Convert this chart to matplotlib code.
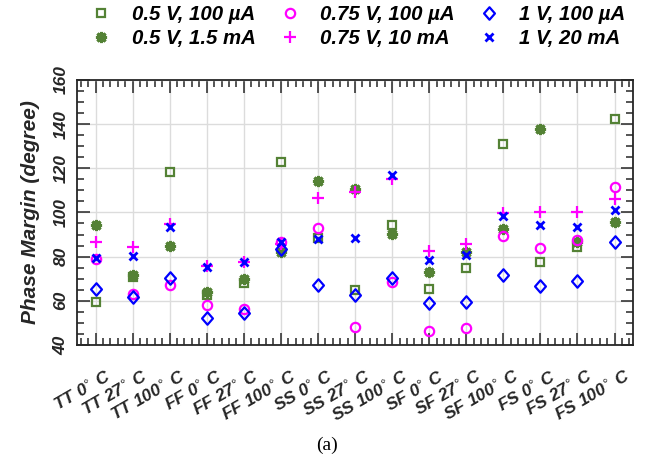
import numpy as np
import matplotlib
matplotlib.use("Agg")
import matplotlib.pyplot as plt
import matplotlib.transforms as mtransforms
from matplotlib.path import Path
from matplotlib.ticker import MultipleLocator, FixedLocator
from matplotlib.font_manager import FontProperties

# ---------------- data ----------------
corners = ["TT 0", "TT 27", "TT 100", "FF 0", "FF 27", "FF 100",
           "SS 0", "SS 27", "SS 100", "SF 0", "SF 27", "SF 100",
           "FS 0", "FS 27", "FS 100"]
tick_labels = [c + r"$^{\circ}$ C" for c in corners]

v05_100u = [59.5, 70.9, 118.5, 62.6, 68.2, 122.9, 88.4, 64.9, 94.1, 65.2, 75.0, 130.8, 77.7, 84.3, 142.1]
v05_15m = [94.3, 71.5, 84.9, 64.1, 69.9, 82.3, 114.4, 110.8, 90.3, 73.2, 82.0, 92.6, 137.6, 86.8, 95.6]
v075_100u = [79.0, 62.9, 67.1, 58.3, 56.1, 86.4, 92.9, 48.2, 68.4, 46.4, 47.7, 89.5, 84.1, 87.6, 111.7]
v075_10m = [86.4, 84.5, 94.9, 75.8, 77.7, 85.5, 106.5, 109.3, 115.2, 82.7, 85.8, 99.7, 100.2, 100.2, 106.1]
v1_100u = [65.2, 61.5, 70.2, 52.0, 54.6, 83.6, 67.3, 62.6, 70.2, 58.8, 59.3, 71.5, 66.7, 69.0, 86.8]
v1_20m = [79.4, 80.2, 93.2, 75.2, 77.4, 86.8, 88.0, 88.4, 117.0, 78.5, 80.8, 98.2, 94.1, 93.2, 101.2]

series_labels = ["0.5 V, 100 \u00b5A", "0.5 V, 1.5 mA", "0.75 V, 100 \u00b5A",
                 "0.75 V, 10 mA", "1 V, 100 \u00b5A", "1 V, 20 mA"]

# ---------------- style ----------------
green = "#548235"
magenta = "#FF00FF"
blue = "#0000FF"
txt = "#262626"

diamond = Path([(0, 1), (0.87, 0), (0, -1), (-0.87, 0), (0, 1)], closed=True)

fp_tick = FontProperties(family="Liberation Sans", weight="bold", style="italic", size=12.5)
fp_label = FontProperties(family="Liberation Sans", weight="bold", style="italic", size=15)
fp_leg = FontProperties(family="Liberation Sans", weight="bold", style="italic", size=14.7)

fig = plt.figure(figsize=(6.54, 4.70), dpi=100)
ax = fig.add_axes([0.1177, 0.266, 0.8503, 0.564])

x = np.arange(1, len(corners) + 1)

h = []
h += ax.plot(x, v05_100u, ls="none", marker="s", ms=5.5, mew=1.6, mfc="none", mec=green, color=green, zorder=3)
h += ax.plot(x, v05_15m, ls="none", marker=(8, 2, 0), ms=8, mew=2.2, color=green, mec=green, zorder=3)
h += ax.plot(x, v075_100u, ls="none", marker="o", ms=6.7, mew=1.6, mfc="none", mec=magenta, color=magenta, zorder=3)
h += ax.plot(x, v075_10m, ls="none", marker="+", ms=8, mew=1.6, color=magenta, mec=magenta, zorder=3)
h += ax.plot(x, v1_100u, ls="none", marker=diamond, ms=9, mew=1.6, mfc="none", mec=blue, color=blue, zorder=3)
h += ax.plot(x, v1_20m, ls="none", marker="x", ms=5.5, mew=2.0, color=blue, mec=blue, zorder=3)

ax.set_xlim(0.5, len(corners) + 0.5)
ax.set_ylim(40, 160)
ax.xaxis.set_major_locator(FixedLocator(x))
ax.xaxis.set_minor_locator(MultipleLocator(0.2))
ax.yaxis.set_major_locator(MultipleLocator(20))
ax.yaxis.set_minor_locator(MultipleLocator(5))

ax.grid(True, which="major", color="#dcdcdc", lw=1.0, zorder=0)
ax.set_axisbelow(True)

ax.tick_params(which="both", direction="in", top=True, right=True, colors=txt, width=1.1)
ax.tick_params(which="major", length=9)
ax.tick_params(which="minor", length=5)
ax.tick_params(axis="y", which="major", pad=6)
ax.tick_params(axis="x", which="major", pad=16)
for s in ax.spines.values():
    s.set_linewidth(1.3)
    s.set_color(txt)

ax.set_xticklabels(tick_labels, rotation=30, ha="right", va="top", rotation_mode="anchor",
                   fontproperties=fp_tick, color=txt)
shift = mtransforms.ScaledTranslation(10 / 100, 0, fig.dpi_scale_trans)
for lab in ax.get_xticklabels():
    lab.set_transform(lab.get_transform() + shift)

yt = np.arange(40, 161, 20)
ax.set_yticks(yt)
ax.set_yticklabels([str(v) for v in yt], rotation=90, va="center", ha="right",
                   fontproperties=fp_tick, color=txt)

ax.set_ylabel("Phase Margin (degree)", fontproperties=fp_label, color=txt, labelpad=10)

fig.legend(h, series_labels, ncol=3, loc="center", bbox_to_anchor=(0.548, 0.944),
           frameon=False, prop=fp_leg, handlelength=1.0, handletextpad=1.0,
           columnspacing=1.15, labelspacing=0.25, borderpad=0.2)

fig.text(0.5, 1 - 445 / 470, "(a)", family="Liberation Serif", size=14,
         ha="center", va="center", color="black")

fig.savefig("out.png", dpi=100)
